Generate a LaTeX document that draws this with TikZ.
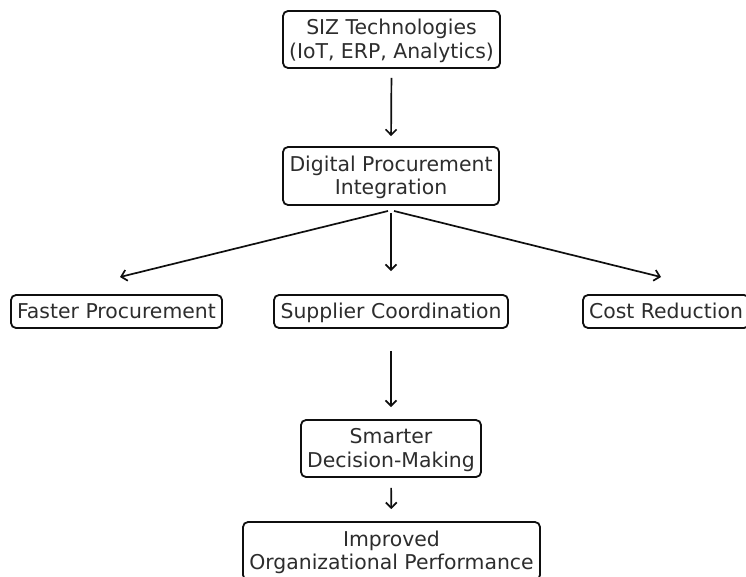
\documentclass[tikz,border=0pt]{standalone}
\usepackage{fontspec}
\setmainfont{DejaVu Sans}
\usetikzlibrary{arrows.meta}
\definecolor{labelgray}{RGB}{45,45,45}
\definecolor{edgegray}{RGB}{15,15,15}
% line strut: full ascent and descent of the label font
\newcommand{\lnstrut}{\rule[-4.7pt]{0pt}{23.3pt}}
\tikzset{
  flowbox/.style={draw=edgegray, line width=1.8pt, rounded corners=5pt,
    fill=white, text=labelgray, align=center, inner sep=0pt,
    font=\fontsize{20.4}{23.5}\selectfont},
  flowarrow/.style={draw=edgegray, line width=1.7pt,
    -{Straight Barb[length=5.5pt,width=11pt,line width=1.7pt]}}
}
\begin{document}
\begin{tikzpicture}[x=1pt,y=-1pt]
  \clip (0,0) rectangle (746,577);
  \fill[white] (0,0) rectangle (746,577);

  % boxes
  \node[flowbox, minimum width=217pt, minimum height=57pt] (siz) at (391.5,39.5)
    {\lnstrut SIZ Technologies\\\lnstrut(IoT, ERP, Analytics)};
  \node[flowbox, minimum width=216pt, minimum height=58pt] (dpi) at (391,176)
    {\lnstrut Digital Procurement\\\lnstrut Integration};
  \node[flowbox, minimum width=211pt, minimum height=33pt] (fast) at (116.5,311.5)
    {\lnstrut Faster Procurement};
  \node[flowbox, minimum width=234pt, minimum height=33pt] (supp) at (391,311.5)
    {\lnstrut Supplier Coordination};
  \node[flowbox, minimum width=166pt, minimum height=33pt] (cost) at (666,311.5)
    {\lnstrut Cost Reduction};
  \node[flowbox, minimum width=180pt, minimum height=57pt] (smart) at (391,448.5)
    {\lnstrut Smarter\\\lnstrut Decision-Making};
  \node[flowbox, minimum width=297pt, minimum height=58pt] (perf) at (391.5,551)
    {\lnstrut Improved\\\lnstrut Organizational Performance};

  % free ends of the fan-out arrows
  \coordinate (fastend) at (120,277);
  \coordinate (costend) at (661,277);
  \coordinate (fanl) at (388,211);
  \coordinate (fanr) at (394,211);

  % connectors
  \draw[flowarrow, shorten <=9pt, shorten >=10pt] (siz.south) -- (dpi.north);
  \draw[flowarrow] (fanl) -- (fastend);
  \draw[flowarrow, shorten <=7pt, shorten >=23pt] (dpi.south) -- (supp.north);
  \draw[flowarrow] (fanr) -- (costend);
  \draw[flowarrow, shorten <=22pt, shorten >=12pt] (supp.south) -- (smart.north);
  \draw[flowarrow, shorten <=10pt, shorten >=12pt] (smart.south) -- (perf.north);
\end{tikzpicture}
\end{document}
